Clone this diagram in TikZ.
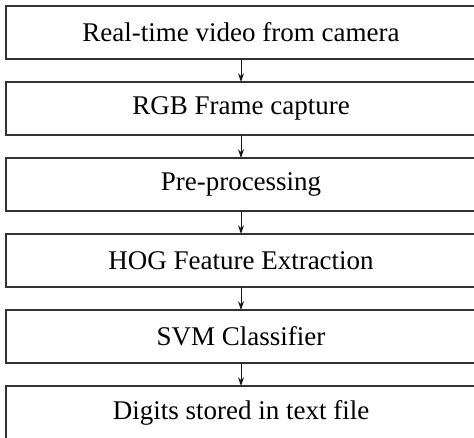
\documentclass[tikz,border=0pt]{standalone}
\usepackage{fontspec}
\setmainfont{Liberation Serif}
\usetikzlibrary{arrows.meta,positioning}

\begin{document}
\begin{tikzpicture}[
  x=0.5pt,y=0.5pt,font=\fontsize{13.5}{16}\selectfont,>=Stealth,
  flow/.style={-{Stealth[length=4.4pt,width=3pt]},draw=black!90,line width=0.5pt},
  stage/.style={draw=black!80,line width=0.75pt,minimum width=235pt,minimum height=26.5pt,
                outer sep=0pt,inner sep=0pt,align=center},
  node distance=11.5pt
]
\clip (0,0) rectangle (474,-437);
\useasboundingbox (0,0) rectangle (474,-437);
% ---------- pipeline stages
\node[stage] (video) at (241,-32.5) {Real-time video from camera};
\node[stage,below=of video]   (rgb)    {RGB Frame capture};
\node[stage,below=of rgb]     (prep)   {Pre-processing};
\node[stage,below=of prep]    (hog)    {HOG Feature Extraction};
\node[stage,below=of hog]     (svm)    {SVM Classifier};
\node[stage,below=of svm]     (digits) {Digits stored in text file};
% ---------- arrows
\draw[flow] (video) -- (rgb);
\draw[flow] (rgb) -- (prep);
\draw[flow] (prep) -- (hog);
\draw[flow] (hog) -- (svm);
\draw[flow] (svm) -- (digits);
\end{tikzpicture}
\end{document}
